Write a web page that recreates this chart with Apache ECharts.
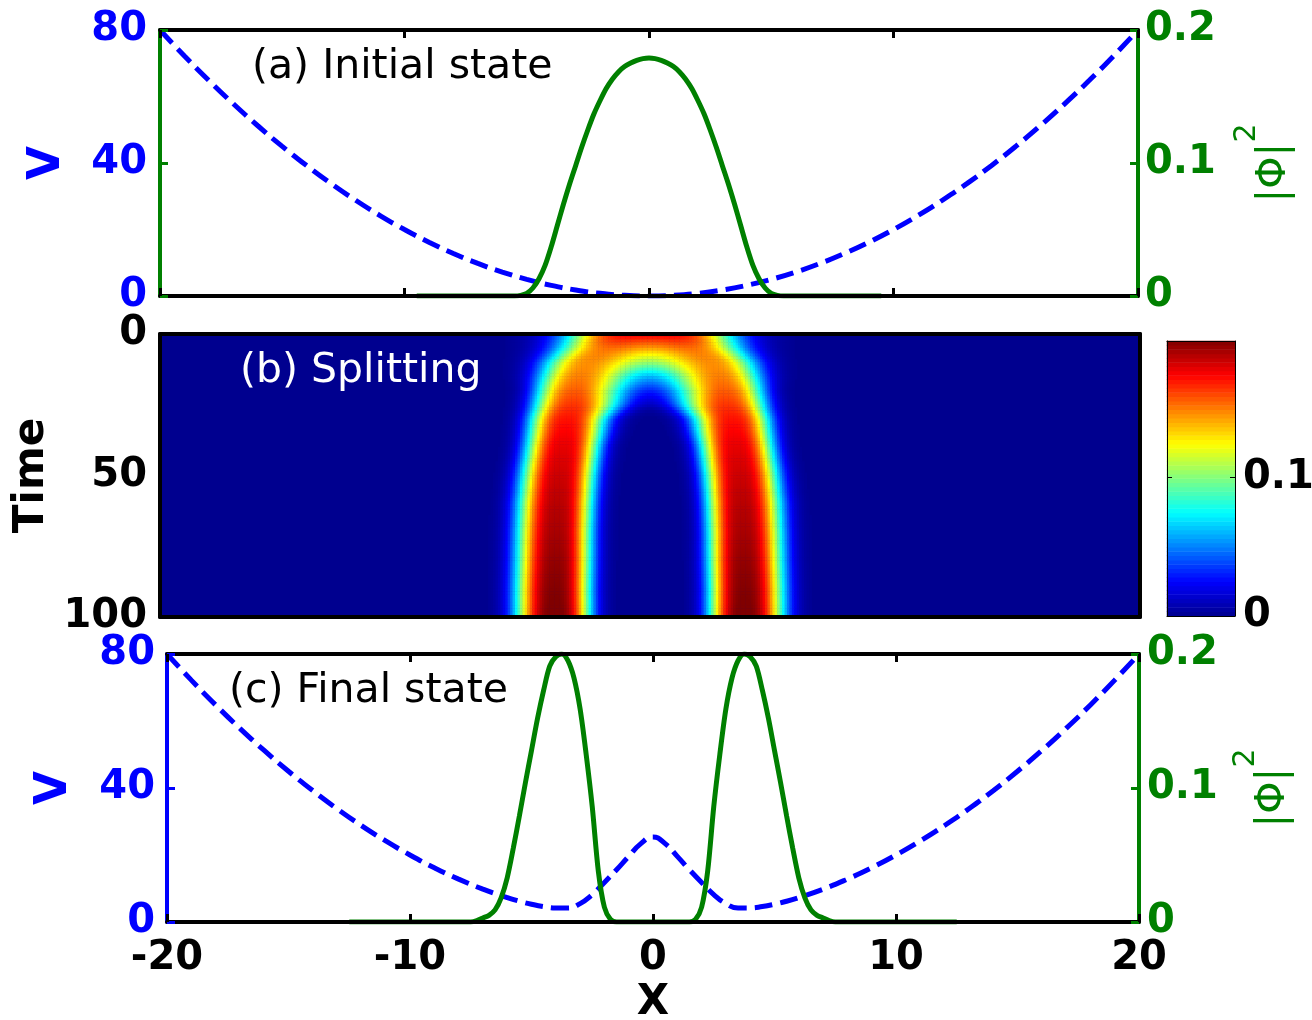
<!DOCTYPE html>
<html>
<head>
<meta charset="utf-8">
<title>Condensate splitting</title>
<script src="https://cdn.jsdelivr.net/npm/echarts@6.0.0/dist/echarts.min.js"></script>
<style>
  html, body { margin: 0; padding: 0; background: #ffffff; }
  #chart { width: 1312px; height: 1020px; }
</style>
</head>
<body>
<div id="chart"></div>
<script>
// ---------- helpers ----------
function range(a, b, step) {
  const out = [];
  for (let v = a; v <= b + 1e-9; v += step) out.push(Math.round(v * 1000) / 1000);
  return out;
}
function zip(xs, ys) { return xs.map((x, i) => [x, ys[i]]); }

// ---------- (a) initial state ----------
const potXA = range(-20, 20, 1);
const potA = [80, 72.2, 64.8, 57.8, 51.2, 45, 39.2, 33.8, 28.8, 24.2, 20, 16.2, 12.8, 9.8, 7.2, 5, 3.2, 1.8, 0.8, 0.2,
              0,
              0.2, 0.8, 1.8, 3.2, 5, 7.2, 9.8, 12.8, 16.2, 20, 24.2, 28.8, 33.8, 39.2, 45, 51.2, 57.8, 64.8, 72.2, 80];

const denXA = [-9.5, -7.5, -6].concat(range(-5.5, 5.5, 0.25), [6, 7.5, 9.5]);
const denA = [0, 0, 0,
              0, 0.0005, 0.002, 0.006, 0.013, 0.023, 0.037, 0.053, 0.069, 0.084, 0.098,
              0.112, 0.125, 0.137, 0.147, 0.156, 0.163, 0.1685, 0.1725, 0.1752, 0.1772, 0.1785,
              0.179,
              0.1785, 0.1772, 0.1752, 0.1725, 0.1685, 0.163, 0.156, 0.147, 0.137, 0.125, 0.112,
              0.098, 0.084, 0.069, 0.053, 0.037, 0.023, 0.013, 0.006, 0.002, 0.0005, 0,
              0, 0, 0];

// ---------- (c) final state ----------
const potXC = range(-20, -7, 1).concat(range(-6, 6, 0.5), range(7, 20, 1));
const potC = [80, 72.2, 64.8, 57.8, 51.2, 45, 39.2, 33.8, 28.8, 24.2, 20, 16.2, 12.8, 9.8,
              7.3, 6.2, 5.3, 4.6, 4.2, 4.2, 5.5, 8.2, 11.8, 15.6, 19.6, 23.4,
              25.4,
              23.4, 19.6, 15.6, 11.8, 8.2, 5.5, 4.2, 4.2, 4.6, 5.3, 6.2, 7.3,
              9.8, 12.8, 16.2, 20, 24.2, 28.8, 33.8, 39.2, 45, 51.2, 57.8, 64.8, 72.2, 80];

const denXC = [-12.5, -10, -8].concat(range(-7.5, -1.5, 0.25), [-1, 0, 1], range(1.5, 7.5, 0.25), [8, 10, 12.5]);
const denC = [0, 0, 0,
              0, 0.001, 0.003, 0.005, 0.009, 0.018, 0.033, 0.055, 0.079, 0.104, 0.128, 0.152, 0.173,
              0.191, 0.198, 0.200, 0.195, 0.182, 0.159, 0.125, 0.086, 0.038, 0.011, 0.002, 0,
              0, 0, 0,
              0, 0.002, 0.011, 0.038, 0.086, 0.125, 0.159, 0.182, 0.195, 0.200, 0.198, 0.191,
              0.173, 0.152, 0.128, 0.104, 0.079, 0.055, 0.033, 0.018, 0.009, 0.005, 0.003, 0.001, 0,
              0, 0, 0];

// ---------- (b) splitting: track of the two lobes over time ----------
const splitTime  = [0,     5,     10,    15,    20,    25,    30,    40,    50,    60,    70,    80,    90,    100];
const lobeCenter = [1.6,   2.0,   2.55,  2.8,   2.95,  3.1,   3.35,  3.55,  3.68,  3.75,  3.8,   3.82,  3.85,  3.85];
const lobePeak   = [0.148, 0.140, 0.143, 0.148, 0.155, 0.163, 0.170, 0.178, 0.183, 0.187, 0.190, 0.194, 0.197, 0.200];
const innerWidth = [2.26,  2.45,  2.55,  2.24,  1.96,  1.85,  1.6,   1.5,   1.45,  1.42,  1.42,  1.42,  1.42,  1.42];
const innerPower = [2,     2,     2,     2,     2,     2.3,   2.7,   3,     3,     3,     3,     3,     3,     3];
const outerWidth = [1.95,  1.88,  1.8,   1.75,  1.7,   1.65,  1.55,  1.5,   1.55,  1.6,   1.6,   1.6,   1.6,   1.6];
const outerPower = [2,     2.2,   2.5,   2.7,   3,     3,     3,     3,     3,     3,     3,     3,     3,     3];

const densityMax = 0.198;
const JET = ['#00008f', '#0000ff', '#0080ff', '#00ffff', '#80ff80', '#ffff00', '#ff8000', '#ff0000', '#800000'];

// heatmap cells
const NX = 400, NT = 100;
const xCells = [], tCells = [];
for (let i = 0; i < NX; i++) xCells.push((-20 + (i + 0.5) * 40 / NX).toFixed(3));
for (let j = 0; j < NT; j++) tCells.push(((j + 0.5) * 100 / NT).toFixed(2));

function param(arr, t) {
  for (let k = 0; k < splitTime.length - 1; k++) {
    if (t <= splitTime[k + 1]) {
      const f = (t - splitTime[k]) / (splitTime[k + 1] - splitTime[k]);
      return arr[k] + (arr[k + 1] - arr[k]) * f;
    }
  }
  return arr[arr.length - 1];
}
// one lobe; d > 0 points away from the trap centre
function lobe(d, p, aIn, kIn, aOut, kOut) {
  if (d >= 0) return p * Math.exp(-Math.pow(d / aOut, kOut));
  return p * Math.exp(-Math.pow(-d / aIn, kIn));
}
const heatCells = [];
for (let j = 0; j < NT; j++) {
  const t = (j + 0.5) * 100 / NT;
  const c = param(lobeCenter, t), p = param(lobePeak, t);
  const aIn = param(innerWidth, t), kIn = param(innerPower, t);
  const aOut = param(outerWidth, t), kOut = param(outerPower, t);
  for (let i = 0; i < NX; i++) {
    const x = -20 + (i + 0.5) * 40 / NX;
    if (Math.abs(x) > 9.5) continue;
    const v = lobe(x - c, p, aIn, kIn, aOut, kOut) + lobe(-x - c, p, aIn, kIn, aOut, kOut);
    if (v < 0.001) continue;
    heatCells.push([i, j, v]);
  }
}

// colour bar levels
const barLevels = [];
for (let k = 0; k < 64; k++) barLevels.push(k);
const barCells = barLevels.map(k => [0, k, (k + 0.5) / 64 * densityMax]);

// ---------- styling ----------
const FONT = 'DejaVu Sans';
const BLUE = '#0000ff', GREEN = '#008000', BLACK = '#000000';

const labelStyle = (color, margin) => ({ show: true, color, fontFamily: FONT, fontWeight: 'bold', fontSize: 40, margin });
const axisLine = (color, width) => ({ show: true, onZero: false, lineStyle: { color, width } });
const ticksIn = (color, len, w) => ({ show: true, inside: true, length: len || 8, lineStyle: { color, width: w || 3 } });
const OFF = { show: false };

function xFrame(grid, pos, opts) {
  return Object.assign({
    gridIndex: grid, type: 'value', position: pos, min: -20, max: 20, interval: 10,
    axisLine: axisLine(BLACK, 4), axisTick: ticksIn(BLACK), axisLabel: OFF, splitLine: OFF, z: 10
  }, opts || {});
}

const phiName = '{m||Φ|}{s|2}';
const phiNameStyle = {
  color: GREEN, fontFamily: FONT, fontSize: 40, fontWeight: 'normal',
  rich: {
    m: { color: GREEN, fontFamily: FONT, fontSize: 41, lineHeight: 84 },
    s: { color: GREEN, fontFamily: FONT, fontSize: 30, lineHeight: 40, verticalAlign: 'top' }
  }
};
const vNameStyle = { color: BLUE, fontFamily: FONT, fontWeight: 'bold', fontSize: 44 };

const option = {
  animation: false,
  backgroundColor: '#ffffff',
  grid: [
    { left: 160, top: 30, width: 978, height: 266, outerBoundsMode: 'none' },
    { left: 160, top: 334, width: 980, height: 283, show: true, backgroundColor: '#00008f', borderWidth: 0, outerBoundsMode: 'none' },
    { left: 167, top: 654, width: 972, height: 268, outerBoundsMode: 'none' },
    { left: 1167, top: 341, width: 68, height: 275, outerBoundsMode: 'none' }
  ],
  xAxis: [
    xFrame(0, 'bottom'),                                                     // 0
    xFrame(0, 'top'),                                                        // 1
    { gridIndex: 1, type: 'category', data: xCells, show: false },           // 2
    xFrame(1, 'bottom', { axisTick: OFF }),                                  // 3
    xFrame(1, 'top', { axisTick: OFF }),                                     // 4
    xFrame(2, 'bottom', {                                                    // 5
      axisLabel: labelStyle(BLACK, 17),
      name: 'X', nameLocation: 'middle', nameGap: 60,
      nameTextStyle: { color: BLACK, fontFamily: FONT, fontWeight: 'bold', fontSize: 42 }
    }),
    xFrame(2, 'top'),                                                        // 6
    { gridIndex: 3, type: 'category', data: ['c'], position: 'bottom',       // 7
      axisLine: axisLine(BLACK, 1), axisTick: OFF, axisLabel: OFF, splitLine: OFF, z: 10 },
    { gridIndex: 3, type: 'value', min: 0, max: 1, position: 'top',          // 8
      axisLine: axisLine(BLACK, 1), axisTick: OFF, axisLabel: OFF, splitLine: OFF, z: 10 }
  ],
  yAxis: [
    { gridIndex: 0, type: 'value', position: 'left', min: 0, max: 80, interval: 40,   // 0
      axisLine: axisLine(GREEN, 4), axisTick: ticksIn(GREEN), axisLabel: labelStyle(BLUE, 13), splitLine: OFF, z: 10,
      name: 'V', nameLocation: 'middle', nameRotate: 90, nameGap: 90, nameTextStyle: vNameStyle },
    { gridIndex: 0, type: 'value', position: 'right', min: 0, max: 0.2, interval: 0.1,  // 1
      axisLine: axisLine(GREEN, 4), axisTick: ticksIn(GREEN), axisLabel: labelStyle(GREEN, 7), splitLine: OFF, z: 10,
      name: phiName, nameLocation: 'middle', nameRotate: 90, nameGap: 94, nameTextStyle: phiNameStyle },
    { gridIndex: 1, type: 'category', data: tCells, inverse: true, show: false },       // 2
    { gridIndex: 1, type: 'value', position: 'left', min: 0, max: 100, interval: 50, inverse: true,  // 3
      axisLine: axisLine(BLACK, 4), axisTick: OFF, axisLabel: labelStyle(BLACK, 13), splitLine: OFF, z: 10,
      name: 'Time', nameLocation: 'middle', nameRotate: 90, nameGap: 98,
      nameTextStyle: { color: BLACK, fontFamily: FONT, fontWeight: 'bold', fontSize: 42 } },
    { gridIndex: 1, type: 'value', position: 'right', min: 0, max: 100,                 // 4
      axisLine: axisLine(BLACK, 4), axisTick: OFF, axisLabel: OFF, splitLine: OFF, z: 10 },
    { gridIndex: 2, type: 'value', position: 'left', min: 0, max: 80, interval: 40,     // 5
      axisLine: axisLine(BLUE, 4), axisTick: ticksIn(BLUE), axisLabel: labelStyle(BLUE, 12), splitLine: OFF, z: 10,
      name: 'V', nameLocation: 'middle', nameRotate: 90, nameGap: 90, nameTextStyle: vNameStyle },
    { gridIndex: 2, type: 'value', position: 'right', min: 0, max: 0.2, interval: 0.1,  // 6
      axisLine: axisLine(GREEN, 4), axisTick: ticksIn(GREEN), axisLabel: labelStyle(GREEN, 8), splitLine: OFF, z: 10,
      name: phiName, nameLocation: 'middle', nameRotate: 90, nameGap: 92, nameTextStyle: phiNameStyle },
    { gridIndex: 3, type: 'category', data: barLevels, show: false },                   // 7
    { gridIndex: 3, type: 'value', position: 'left', min: 0, max: densityMax, interval: 0.1,   // 8
      axisLine: axisLine(BLACK, 1), axisTick: ticksIn(BLACK, 5, 1), axisLabel: OFF, splitLine: OFF, z: 10 },
    { gridIndex: 3, type: 'value', position: 'right', min: 0, max: densityMax, interval: 0.1,  // 9
      axisLine: axisLine(BLACK, 1), axisTick: ticksIn(BLACK, 5, 1), splitLine: OFF, z: 10,
      axisLabel: Object.assign(labelStyle(BLACK, 8), {
        formatter: v => (v === 0 ? '0' : (Math.abs(v - 0.1) < 1e-6 ? '0.1' : ''))
      }) }
  ],
  visualMap: {
    show: false, type: 'continuous', min: 0, max: densityMax, seriesIndex: [2, 5],
    inRange: { color: JET }
  },
  series: [
    { type: 'line', xAxisIndex: 0, yAxisIndex: 0, data: zip(potXA, potA), smooth: true, showSymbol: false,
      lineStyle: { color: BLUE, width: 5, type: [18, 8] }, z: 3 },
    { type: 'line', xAxisIndex: 0, yAxisIndex: 1, data: zip(denXA, denA), smooth: 0.3, showSymbol: false,
      lineStyle: { color: GREEN, width: 5 }, z: 4 },
    { type: 'heatmap', xAxisIndex: 2, yAxisIndex: 2, data: heatCells, progressive: 0, emphasis: { disabled: true } },
    { type: 'line', xAxisIndex: 5, yAxisIndex: 5, data: zip(potXC, potC), smooth: true, showSymbol: false,
      lineStyle: { color: BLUE, width: 5, type: [18, 8] }, z: 3 },
    { type: 'line', xAxisIndex: 5, yAxisIndex: 6, data: zip(denXC, denC), smooth: 0.3, showSymbol: false,
      lineStyle: { color: GREEN, width: 5 }, z: 4 },
    { type: 'heatmap', xAxisIndex: 7, yAxisIndex: 7, data: barCells, progressive: 0, emphasis: { disabled: true } }
  ],
  graphic: [
    { type: 'text', x: 252, y: 67, z: 20,
      style: { text: '(a) Initial state', fill: BLACK, font: 'normal 41px "DejaVu Sans"', verticalAlign: 'middle' } },
    { type: 'text', x: 240, y: 371, z: 20,
      style: { text: '(b) Splitting', fill: '#ffffff', font: 'normal 41px "DejaVu Sans"', verticalAlign: 'middle' } },
    { type: 'text', x: 229, y: 691, z: 20,
      style: { text: '(c) Final state', fill: BLACK, font: 'normal 41px "DejaVu Sans"', verticalAlign: 'middle' } }
  ]
};

const chart = echarts.init(document.getElementById('chart'), null, { renderer: 'canvas' });
chart.setOption(option);
</script>
</body>
</html>
